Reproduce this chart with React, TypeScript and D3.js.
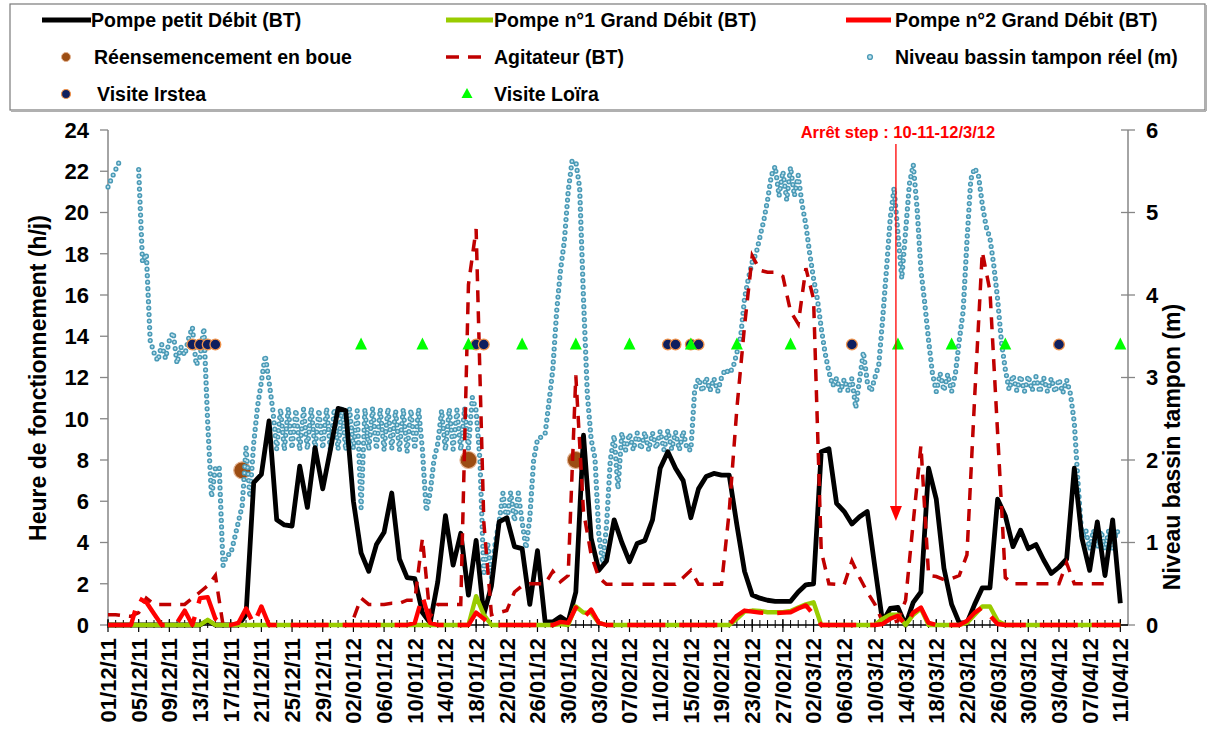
import React from "react";
import * as d3 from "d3";

// ---------- DATA ----------
const START = "01/12/11";
const END = "12/04/12";

const tickLabels = [
  "01/12/11", "05/12/11", "09/12/11", "13/12/11", "17/12/11", "21/12/11", "25/12/11", "29/12/11",
  "02/01/12", "06/01/12", "10/01/12", "14/01/12", "18/01/12", "22/01/12", "26/01/12", "30/01/12",
  "03/02/12", "07/02/12", "11/02/12", "15/02/12", "19/02/12", "23/02/12", "27/02/12",
  "02/03/12", "06/03/12", "10/03/12", "14/03/12", "18/03/12", "22/03/12", "26/03/12", "30/03/12",
  "03/04/12", "07/04/12", "11/04/12",
];

const leftTicks = [0, 2, 4, 6, 8, 10, 12, 14, 16, 18, 20, 22, 24];
const rightTicks = [0, 1, 2, 3, 4, 5, 6];

// daily values from 01/12/11 (h/j)
const pompePetit = [
  0, 0, 0, 0, 0, 0, 0, 0, 0, 0, 0, 0, 0, 0.2, 0, 0, 0, 0, 0.5,
  6.9, 7.3, 9.9, 5.1, 4.85, 4.8, 7.7, 5.7, 8.6, 6.6, 8.5, 10.5, 10.4, 6.0, 3.5, 2.6, 3.9, 4.5, 6.4, 3.2,
  2.3, 2.25, 0.6, 0.1, 2.1, 5.3, 2.9, 4.45, 1.45, 4.1, 0.5, 1.9, 5.0, 5.2, 3.8, 3.7, 1.0, 3.6, 0.15, 0.15,
  0.4, 0.15, 1.6, 9.2, 4.2, 2.65, 3.1, 5.1, 4.0, 3.07, 3.95, 4.1, 5.1, 7.6, 8.4, 7.6, 7.0, 5.2, 6.6, 7.2,
  7.35, 7.27, 7.27, 4.85, 2.6, 1.45, 1.3, 1.2, 1.15, 1.15, 1.15, 1.6, 1.95, 2.0, 8.4, 8.55, 5.9, 5.5, 4.9,
  5.25, 5.5, 2.8, 0.15, 0.8, 0.85, 0, 1.1, 1.6, 7.6, 6.1, 2.75, 1.0, 0.1, 0.1, 1.0, 1.8, 1.8, 6.1, 5.3,
  3.8, 4.6, 3.7, 3.9, 3.15, 2.5, 2.8, 3.2, 7.6, 4.2, 2.65, 5.0, 2.4, 5.1, 1.05,
];

const pompe1 = [
  0, 0, 0, 0, 0, 0, 0, 0, 0, 0, 0, 0, 0, 0.25,
  0, 0, 0, 0, 0, 0, 0, 0, 0, 0, 0, 0, 0, 0, 0, 0, 0, 0, 0, 0, 0, 0, 0, 0, 0, 0, 0, 0, 0, 0, 0, 0, 0,
  0, 1.4, 0.5,
  0, 0, 0, 0, 0, 0, 0, 0, 0,
  0.05, 0, 0.9, 0.6, 0.6, 0.1,
  0, 0, 0, 0, 0, 0, 0, 0, 0, 0, 0, 0, 0, 0, 0, 0, 0,
  0.3, 0.65, 0.7, 0.68, 0.62, 0.62, 0.62, 0.68, 0.85, 1.0, 1.1,
  0, 0, 0, 0, 0, 0, 0, 0,
  0.3, 0.5, 0.5, 0, 0.5, 0.8,
  0, 0, 0, 0, 0,
  0.1, 0.5, 0.9, 0.9, 0.2,
  0, 0, 0, 0, 0, 0, 0, 0, 0, 0, 0, 0, 0, 0, 0, 0,
];

const pompe2 = [
  0, 0, 0, 0, 1.3, 1.1, 0.55, 0, 0, 0.1, 0.7, 0, 1.3, 1.35, 0.3, 0, 0, 0.1, 0.8, 0.05, 0.9,
  0, 0, 0, 0, 0, 0, 0, 0, 0, 0, 0, 0, 0, 0, 0, 0, 0, 0, 0,
  0.1, 1.4, 0.1,
  0, 0, 0, 0, 0,
  0.6, 0.3,
  0, 0, 0, 0, 0, 0, 0, 0, 0,
  0.15, 0.1, 0.85, 0.35, 0.75, 0.1,
  0, 0, 0, 0, 0, 0, 0, 0, 0, 0, 0, 0, 0, 0, 0, 0, 0,
  0.45, 0.7, 0.65, 0.6, 0.58, 0.58, 0.6, 0.62, 0.8, 0.95, 0.5,
  0, 0, 0, 0, 0, 0, 0, 0,
  0.05, 0.3, 0.45, 0, 0.6, 0.85, 0.1,
  0, 0, 0, 0,
  0.2, 0.6, 0.85, 0.45, 0.05,
  0, 0, 0, 0, 0, 0, 0, 0, 0, 0, 0, 0, 0, 0, 0, 0,
];

const agitateur = [
  0.5, 0.5, 0.45, 0.42, 0.6, 1.3, 1.0, 1.0, 1.0, 1.0, 1.0, 1.3, 1.6, 1.9, 2.4,
  0, 0, 0, 0, 0, 0, 0, 0, 0, 0, 0, 0, 0, 0, 0, 0, 0,
  0.3, 1.3, 1.0, 1.0, 1.0, 1.05, 1.05, 1.2, 1.2, 4.2, 0.4, 1.0, 1.0, 1.0, 1.0, 16.5, 19.2, 5.0, 0.5, 0.6,
  0.7, 1.6, 1.9, 2.0, 2.0, 2.0, 2.6, 2.1, 2.4, 12.1, 5.5, 3.4, 2.3, 1.97, 1.97, 1.97, 1.97, 1.97, 1.97,
  1.97, 1.97, 1.97, 1.97, 2.3, 2.65, 1.97, 1.97, 1.97, 1.97, 5.5, 10.5, 14.5, 17.9, 17.2, 17.1, 17.1,
  16.9, 15.2, 14.6, 17.3, 15.8, 3.6, 2.0, 1.97, 1.97, 3.1, 2.3, 1.6, 1.0, 0.15, 0.1, 0.2, 1.2, 5.0, 8.7,
  2.4, 2.35, 2.2, 2.25, 2.4, 3.4, 11.0, 18.1, 16.2, 9.3, 2.3, 2.0, 2.0, 2.0, 2.0, 2.0, 2.0, 2.0, 3.0,
  2.0, 2.0, 2.0, 2.0, 2.0, 2.0,
];

// level (m), two readings per day (00h, 12h) from 01/12/11
const niveau: (number | null)[][] = [
  [5.31, 5.42], [5.52, 5.62], [null, null], [null, null], [5.52, 4.4], [4.5, 3.45], [3.3, 3.2],
  [3.4, 3.23], [3.45, 3.55], [3.17, 3.37], [3.27, 3.47], [3.61, 3.15], [3.25, 3.6], [2.45, 1.55],
  [1.9, 1.92], [0.72, 0.85], [0.86, 1.05], [1.25, 1.45], [2.15, 1.55], [2.2, 2.65], [2.95, 3.27],
  [2.95, 2.6], [2.13, 2.62], [2.12, 2.63], [2.14, 2.61], [2.12, 2.62], [2.13, 2.63], [2.12, 2.61],
  [2.14, 2.63], [2.12, 2.62], [2.13, 2.63], [2.12, 2.62], [2.14, 2.6], [1.42, 2.62], [2.12, 2.63],
  [2.13, 2.62], [2.12, 2.63], [2.14, 2.6], [2.12, 2.62], [2.1, 2.61], [2.13, 2.62], [2.12, 1.38],
  [1.6, 2.0], [2.2, 2.6], [2.12, 2.62], [2.13, 2.61], [2.12, 2.63], [2.14, 2.76], [2.6, 2.0],
  [0.6, 1.0], [0.58, 1.0], [1.25, 1.6], [1.25, 1.61], [1.26, 1.6], [1.25, 0.93], [1.3, 2.0],
  [2.25, 2.28], [2.32, 2.7], [3.1, 3.8], [4.3, 4.65], [5.25, 5.62], [5.62, 5.3], [3.96, 2.8],
  [2.25, 2.02], [1.1, 0.75], [1.2, 2.0], [2.3, 1.65], [2.33, 2.12], [2.32, 2.12], [2.33, 2.13],
  [2.34, 2.12], [2.33, 2.14], [2.35, 2.12], [2.36, 2.13], [2.34, 2.12], [2.35, 2.13], [2.12, 2.85],
  [2.99, 2.83], [3.0, 2.84], [2.99, 2.83], [3.0, 3.1], [3.05, 3.12], [3.3, 3.5], [3.96, 4.2],
  [4.4, 4.5], [4.7, 4.9], [5.15, 5.45], [5.56, 5.2], [5.5, 5.15], [5.55, 5.2], [5.45, 5.1],
  [4.85, 4.5], [4.2, 3.95], [3.6, 3.3], [3.07, 2.9], [2.99, 2.83], [2.98, 2.84], [2.99, 2.63],
  [2.98, 3.31], [2.95, 2.83], [3.0, 3.15], [3.7, 4.3], [4.93, 5.3], [4.75, 4.2], [4.77, 5.35],
  [5.58, 5.05], [4.3, 3.9], [3.45, 3.05], [2.83, 3.05], [2.84, 3.04], [2.83, 3.05], [3.45, 3.8],
  [4.65, 5.4], [5.54, 5.45], [5.1, 4.83], [4.69, 4.36], [3.95, 3.43], [3.1, 2.85], [3.03, 2.84],
  [3.02, 2.83], [3.02, 2.84], [3.01, 2.82], [3.0, 2.83], [2.99, 2.82], [2.98, 2.81], [2.97, 2.8],
  [2.45, 1.7], [1.05, 1.15], [0.92, 1.15], [0.93, 1.14], [0.92, 1.15], [0.93, 1.14], [1.1],
];

const reensemencementDates = ["18/12/11 12:00", "17/01/12 00:00", "31/01/12 00:00"];
const reensemencementValues = [7.5, 8.0, 8.0];

const irsteaDates = [
  "12/12/11", "13/12/11", "14/12/11", "15/12/11", "18/01/12", "19/01/12",
  "12/02/12", "13/02/12", "15/02/12", "16/02/12", "07/03/12", "03/04/12",
];
const loiraDates = [
  "03/01/12", "11/01/12", "17/01/12", "24/01/12", "31/01/12", "07/02/12", "15/02/12",
  "21/02/12", "28/02/12", "13/03/12", "20/03/12", "27/03/12", "11/04/12",
];
const visiteValue = 13.6;

const annotationText = "Arrêt step : 10-11-12/3/12";
const annotationDate = "13/03/12 00:00";

// ---------- CHART ----------
const W = 1213;
const H = 734;
const FONT = "'Liberation Sans', Arial, Helvetica, sans-serif";

const parse = d3.utcParse("%d/%m/%y");
const parseH = d3.utcParse("%d/%m/%y %H:%M");
const start = parse(START) as Date;
const end = parse(END) as Date;

const x = d3.scaleUtc().domain([start, end]).range([108, 1128]);
const yL = d3.scaleLinear().domain([0, 24]).range([625, 130]);
const yR = d3.scaleLinear().domain([0, 6]).range([625, 130]);

const dayDate = (i: number) => d3.utcDay.offset(start, i);

type P = [Date, number | null];
const dailySeries = (arr: number[]): P[] => arr.map((v, i) => [dayDate(i), v]);
const niveauSeries: P[] = niveau.flatMap((pair, i) =>
  pair.map((v, j) => [d3.utcHour.offset(start, i * 24 + j * 12), v] as P)
);

const lineL = d3
  .line<P>()
  .defined((d) => d[1] != null)
  .x((d) => x(d[0]))
  .y((d) => yL(d[1] as number));
const lineR = d3
  .line<P>()
  .defined((d) => d[1] != null)
  .x((d) => x(d[0]))
  .y((d) => yR(d[1] as number));

const AXIS = "#868686";
const BLUE_OUT = "#4a9ab6";
const BLUE_IN = "#bfe0ec";

export default function App() {
  const days = d3.utcDay.range(start, end);
  const niveauPath = lineR(niveauSeries) || "";
  const annX = x(parseH(annotationDate) as Date) - 2;
  return (
    <svg
      width={W}
      height={H}
      style={{ position: "absolute", left: 0, top: 0, display: "block", background: "#fff" }}
      fontFamily={FONT}
      fontWeight="bold"
    >
      {/* legend */}
      <g>
        <rect x={10} y={4} width={1195} height={106} fill="#fff" stroke="#7a7a7a" strokeWidth={1.2} />
        <line x1={11} y1={111} x2={1206} y2={111} stroke="#b0b0b0" strokeWidth={2} />
        <line x1={1206} y1={5} x2={1206} y2={111} stroke="#b0b0b0" strokeWidth={2} />
        <line x1={42} y1={20} x2={91} y2={20} stroke="#000" strokeWidth={5} />
        <text x={91} y={20} dy="0.35em" fontSize={19.5}>Pompe petit Débit (BT)</text>
        <line x1={446} y1={20} x2={493} y2={20} stroke="#99cc00" strokeWidth={5} />
        <text x={494} y={20} dy="0.35em" fontSize={19.5}>Pompe n°1 Grand Débit (BT)</text>
        <line x1={846} y1={20} x2={891} y2={20} stroke="#ff0000" strokeWidth={5} />
        <text x={895} y={20} dy="0.35em" fontSize={19.5}>Pompe n°2 Grand Débit (BT)</text>

        <circle cx={66} cy={57} r={4.5} fill="#9c4d13" stroke="#e3b18f" strokeWidth={1} />
        <text x={94} y={57} dy="0.35em" fontSize={19.5}>Réensemencement en boue</text>
        <line x1={446} y1={57} x2={482} y2={57} stroke="#c00000" strokeWidth={3.5} strokeDasharray="13 9" />
        <text x={494} y={57} dy="0.35em" fontSize={19.5}>Agitateur (BT)</text>
        <circle cx={870} cy={57} r={2.4} fill={BLUE_IN} stroke={BLUE_OUT} strokeWidth={1.4} />
        <text x={895} y={57} dy="0.35em" fontSize={19.5}>Niveau bassin tampon réel (m)</text>

        <circle cx={66} cy={94} r={4.5} fill="#0f1f5f" stroke="#f0924a" strokeWidth={1.2} />
        <text x={97} y={94} dy="0.35em" fontSize={19.5}>Visite Irstea</text>
        <polygon points={`467,88 461.5,98 472.5,98`} fill="#00ff00" />
        <text x={494} y={94} dy="0.35em" fontSize={19.5}>Visite Loïra</text>
      </g>

      {/* axes */}
      <g>
        <line x1={108} y1={130} x2={108} y2={625} stroke={AXIS} strokeWidth={1.5} />
        {leftTicks.map((t) => (
          <g key={"l" + t}>
            <line x1={100} y1={yL(t)} x2={108} y2={yL(t)} stroke={AXIS} strokeWidth={1.3} />
            <text x={89} y={yL(t)} dy="0.36em" textAnchor="end" fontSize={22}>{t}</text>
          </g>
        ))}
        <line x1={1128} y1={130} x2={1128} y2={625} stroke={AXIS} strokeWidth={1.5} />
        {rightTicks.map((t) => (
          <g key={"r" + t}>
            <line x1={1121} y1={yR(t)} x2={1135} y2={yR(t)} stroke={AXIS} strokeWidth={1.3} />
            <text x={1146} y={yR(t)} dy="0.36em" textAnchor="start" fontSize={22}>{t}</text>
          </g>
        ))}
        <line x1={108} y1={625} x2={1128} y2={625} stroke="#000" strokeWidth={1.3} />
        {days.map((d, i) => (
          <line key={"m" + i} x1={x(d)} y1={620} x2={x(d)} y2={628} stroke="#000" strokeWidth={1} />
        ))}
        {tickLabels.map((s) => {
          const px = x(parse(s) as Date);
          return (
            <g key={"t" + s}>
              <line x1={px} y1={619} x2={px} y2={632} stroke="#000" strokeWidth={1.2} />
              <text
                transform={`translate(${px},638) rotate(-90)`}
                dy="0.36em"
                textAnchor="end"
                fontSize={22}
              >
                {s}
              </text>
            </g>
          );
        })}
        <text transform="translate(46,378) rotate(-90)" textAnchor="middle" fontSize={23}>
          Heure de fonctionnement (h/j)
        </text>
        <text transform="translate(1180,447) rotate(-90)" textAnchor="middle" fontSize={23}>
          Niveau bassin tampon (m)
        </text>
      </g>

      {/* réensemencement markers (behind level) */}
      {reensemencementDates.map((s, i) => (
        <circle
          key={"b" + i}
          cx={x(parseH(s) as Date)}
          cy={yL(reensemencementValues[i])}
          r={8.5}
          fill="#9c4d13"
          stroke="#e3b18f"
          strokeWidth={1.2}
        />
      ))}

      {/* level dotted series */}
      <path d={niveauPath} fill="none" stroke={BLUE_OUT} strokeWidth={5.2} strokeLinecap="round" strokeDasharray="0 6.5" />
      <path d={niveauPath} fill="none" stroke={BLUE_IN} strokeWidth={2.2} strokeLinecap="round" strokeDasharray="0 6.5" />

      {/* pump lines */}
      <path d={lineL(dailySeries(pompePetit)) || ""} fill="none" stroke="#000" strokeWidth={4.8} strokeLinejoin="round" />
      <path d={lineL(dailySeries(agitateur)) || ""} fill="none" stroke="#c00000" strokeWidth={3.5} strokeDasharray="12 9" />
      <path d={lineL(dailySeries(pompe1)) || ""} fill="none" stroke="#99cc00" strokeWidth={4.4} strokeLinejoin="round" />
      <path d={lineL(dailySeries(pompe2)) || ""} fill="none" stroke="#ff0000" strokeWidth={4.4} strokeLinejoin="round" strokeDasharray="38 14" />

      {/* visits */}
      {irsteaDates.map((s, i) => (
        <circle
          key={"i" + i}
          cx={x(parse(s) as Date)}
          cy={yL(visiteValue)}
          r={5.4}
          fill="#0f1f5f"
          stroke="#f0924a"
          strokeWidth={1.3}
        />
      ))}
      {loiraDates.map((s, i) => {
        const px = x(parse(s) as Date);
        const py = yL(visiteValue);
        return (
          <polygon
            key={"g" + i}
            points={`${px},${py - 7} ${px - 6},${py + 5} ${px + 6},${py + 5}`}
            fill="#00ff00"
          />
        );
      })}

      {/* annotation */}
      <text x={annX + 2} y={138} textAnchor="middle" fontSize={16.5} fill="#ff0000">
        {annotationText}
      </text>
      <line x1={annX} y1={144} x2={annX} y2={510} stroke="#ff0000" strokeWidth={1.3} />
      <polygon points={`${annX - 6},${506} ${annX + 6},${506} ${annX},${521}`} fill="#ff0000" />
    </svg>
  );
}
